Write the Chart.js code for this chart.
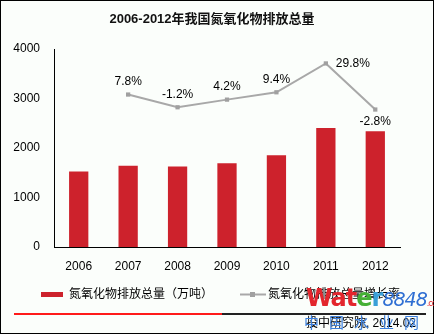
<!DOCTYPE html>
<html>
<head>
<meta charset="utf-8">
<script src="https://cdn.jsdelivr.net/npm/chart.js@4.4.1/dist/chart.umd.min.js"></script>
<style>
  html, body { margin: 0; padding: 0; background: #fff; }
  #wrap { position: relative; width: 434px; height: 334px; }
  #c { position: absolute; left: 0; top: 0; }
  .wm { position: absolute; font-family: "DejaVu Sans", sans-serif; white-space: nowrap; }
</style>
</head>
<body>
<div id="wrap">
  <canvas id="c" width="434" height="334"></canvas>
  <div class="wm" style="left:306px;top:284px;font-size:24px;font-weight:bold;letter-spacing:-1px;">
    <span style="color:#e3262d">Wat</span><span style="color:#45b035">e</span><span style="color:#3aa0d8">r</span><span style="color:#2f6fd3;font-style:italic;font-weight:normal;font-size:19px;">8848</span><span style="color:#e3262d;font-size:8px;font-weight:normal;">.com</span>
  </div>
  <div class="wm" style="left:304px;top:311px;font-size:15px;color:#3b7fdc;letter-spacing:10px;font-family:'Noto Sans CJK SC';">中国水业网</div>
</div>
<script>
const years = ["2006", "2007", "2008", "2009", "2010", "2011", "2012"];
const emissions = [1523.8, 1643.4, 1624.5, 1692.7, 1852.4, 2404.3, 2337.8];
const growthRate = [null, 7.8, -1.2, 4.2, 9.4, 29.8, -2.8];
const yTicks = [0, 1000, 2000, 3000, 4000];

const FONT = '"Liberation Sans", "Noto Sans CJK SC", sans-serif';
const RED = "#cd222c";
const GREY = "#a8a8a8";

// where each growth label sits relative to its point
const labelPos = ["top", "top", "top", "top", "top", "right", "bottom"];

const extras = {
  id: "extras",
  afterDraw(chart) {
    const ctx = chart.ctx;
    ctx.save();

    // title
    ctx.fillStyle = "#111";
    ctx.font = "bold 13px " + FONT;
    ctx.textAlign = "center";
    ctx.textBaseline = "middle";
    ctx.fillText("2006-2012年我国氮氧化物排放总量", 212, 19);

    // growth labels on the line
    const meta = chart.getDatasetMeta(1);
    ctx.font = "12px " + FONT;
    ctx.fillStyle = "#000";
    meta.data.forEach((pt, i) => {
      const v = growthRate[i];
      if (v === null) return;
      const txt = v.toFixed(1) + "%";
      let x = pt.x, y = pt.y;
      if (labelPos[i] === "top") { y -= 13; ctx.textAlign = "center"; }
      else if (labelPos[i] === "bottom") { y += 12; ctx.textAlign = "center"; }
      else { x += 10; ctx.textAlign = "left"; }
      ctx.fillText(txt, x, y);
    });

    // legend
    const ds = chart.data.datasets;
    ctx.textAlign = "left";
    ctx.fillStyle = ds[0].backgroundColor;
    ctx.fillRect(41, 292, 22, 5);
    ctx.fillStyle = "#000";
    ctx.fillText(ds[0].label, 69, 295);

    ctx.strokeStyle = ds[1].borderColor;
    ctx.lineWidth = 2;
    ctx.beginPath();
    ctx.moveTo(240, 294.5);
    ctx.lineTo(266, 294.5);
    ctx.stroke();
    ctx.fillStyle = ds[1].pointBackgroundColor;
    ctx.fillRect(250, 292, 5, 5);
    ctx.fillStyle = "#000";
    ctx.fillText(ds[1].label, 268, 295);

    // footer rule and source
    ctx.fillStyle = "#ff1a1a";
    ctx.fillRect(14, 313, 208, 2);
    ctx.fillStyle = "#222";
    ctx.fillRect(222, 313, 204, 2);
    ctx.fillStyle = "#000";
    ctx.textAlign = "right";
    ctx.fillText("投中研究院, 2014.02", 416, 324);

    // frame
    ctx.strokeStyle = "#000";
    ctx.lineWidth = 1;
    ctx.strokeRect(0.5, 0.5, 433, 333);
    ctx.restore();
  }
};

const bgFill = {
  id: "bgFill",
  beforeDraw(chart) {
    const ctx = chart.ctx;
    ctx.save();
    ctx.fillStyle = "#fbfefb";
    ctx.fillRect(0, 0, chart.width, chart.height);
    ctx.restore();
  }
};

new Chart(document.getElementById("c"), {
  data: {
    labels: years,
    datasets: [
      {
        type: "bar",
        label: "氮氧化物排放总量（万吨）",
        data: emissions,
        backgroundColor: RED,
        barPercentage: 0.39,
        categoryPercentage: 1,
        yAxisID: "y",
        order: 2
      },
      {
        type: "line",
        label: "氮氧化物排放总量增长率",
        data: growthRate,
        borderColor: GREY,
        borderWidth: 2,
        pointStyle: "rect",
        pointRadius: 3,
        pointBackgroundColor: "#a0a0a0",
        pointBorderWidth: 0,
        yAxisID: "y1",
        order: 1
      }
    ]
  },
  options: {
    responsive: false,
    devicePixelRatio: 1,
    animation: false,
    layout: { padding: { top: 49, right: 34, bottom: 57, left: 0 } },
    plugins: {
      legend: { display: false },
      title: { display: false },
      tooltip: { enabled: false }
    },
    scales: {
      x: {
        grid: { display: false, drawTicks: false },
        border: { display: true, color: "#000", width: 1 },
        ticks: { color: "#000", font: { size: 12, family: FONT }, padding: 12 },
        afterFit(scale) { scale.height = 30; }
      },
      y: {
        min: 0,
        max: 4000,
        grid: { display: false, drawTicks: false },
        border: { display: true, color: "#000", width: 1 },
        ticks: {
          color: "#000",
          font: { size: 12, family: FONT },
          padding: 14,
          stepSize: 1000,
          callback: (v) => String(v)
        },
        afterBuildTicks(scale) { scale.ticks = yTicks.map(v => ({ value: v })); },
        afterFit(scale) { scale.width = 54; }
      },
      y1: {
        display: false,
        min: -100,
        max: 40
      }
    }
  },
  plugins: [bgFill, extras]
});
</script>
</body>
</html>
